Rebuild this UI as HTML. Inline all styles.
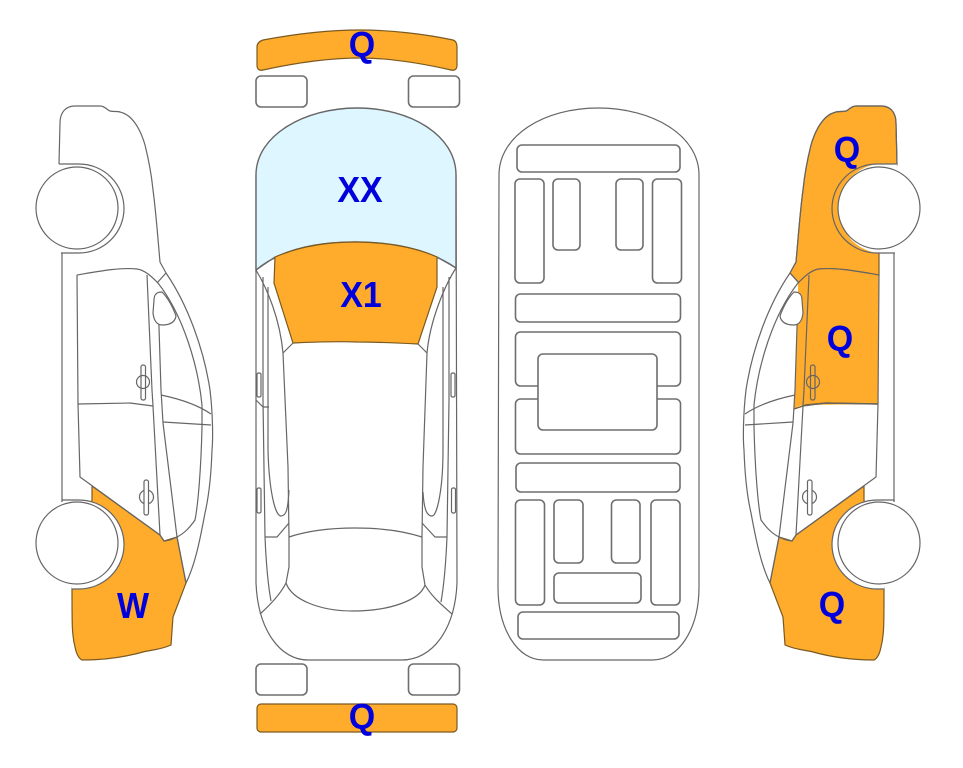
<!DOCTYPE html>
<html><head><meta charset="utf-8"><style>
html,body{margin:0;padding:0;background:#fff;width:963px;height:768px;overflow:hidden}
svg{display:block}
.l{fill:none;stroke:#666;stroke-width:1.2;stroke-linejoin:round}
.w{fill:#fff;stroke:#666;stroke-width:1.2}
.b{fill:#fff;stroke:#6e6e6e;stroke-width:1.6}
.o{fill:#FFAB2C;stroke:#7a5a20;stroke-width:1.2}
.n{fill:#FFAB2C;stroke:none}
text{font-family:"Liberation Sans",sans-serif;font-weight:700;font-size:34px;fill:#0000DC;text-anchor:middle}
</style></head><body>
<svg width="963" height="768" viewBox="0 0 963 768" xmlns="http://www.w3.org/2000/svg">
<defs>
<path id="rearfill" d="M92,486 L160,535 L164,541 L177,537 L186,583 L173,617 L171,645 C160,650 150,650 143,652 C125,657 105,660 82,660 C78,658 76,652 75,647 C72,635 72,627 72,589 L92,500 Z"/>
<g id="side">
<path class="l" d="M59,164 L60,123 C60,112 66,106 75,106 L100,106 C105,106 107,110 110,111 C114,112 117,111 120,112 C128,114 132,119 135,123 C140,130 143,138 145,145 C150,165 152,180 153,190 C156,212 158,240 160,262 L166,273 C188,305 204,350 210,390 C213,415 213,440 212,450 C211,480 208,500 205,513 C200,540 195,565 186,583"/>
<path class="l" d="M62,253 L62,502"/>
<path class="l" d="M77,275 L78,404 L80,477 L160,535 L164,541 C168,541 173,539 177,537 C185,533 190,527 195,520 C198,505 201,470 202,427 L202,405 C198,365 183,315 158,283 C152,277 145,270 137,269 C120,267 95,272 77,275"/>
<path class="l" d="M166,273 L157,283"/>
<path class="l" d="M147,275 L152,390 L153,406 L160,535"/>
<path class="l" d="M158,296 L161,390 L163,423 L177,537 L186,583"/>
<path class="l" d="M78,404 L130,403 L153,406"/>
<path class="l" d="M161,395 C180,399 198,405 211,414"/>
<path class="l" d="M163,422 L211,425"/>
<path class="w" d="M162,292 C157,292 154,294 154,300 L153,313 C154,322 158,325 162,325 C170,325 175,322 176,316 C172,305 168,298 162,292 Z"/>
<circle class="l" cx="143" cy="382" r="6.5"/>
<rect class="l" x="141" y="365" width="4.5" height="35" rx="2"/>
<circle class="l" cx="146.500" cy="497" r="7"/>
<rect class="w" x="144" y="480" width="4.500" height="35" rx="2"/>
<path class="w" d="M59,164 H79 A45,45 0 0 1 79,253 H62 L59,164 Z" style="stroke:none"/>
<path class="l" d="M59,164 H79 A45,44.500 0 0 1 79,253 H61"/>
<circle class="w" cx="77" cy="208" r="41"/>
<path class="w" d="M62,500 H79 A45,44.500 0 0 1 79,589 H72 Z" style="stroke:none"/>
<path class="l" d="M62,502 L62,500 H79 A45,44.500 0 0 1 79,589 H72"/>
<circle class="w" cx="77" cy="543" r="41"/>
</g>
</defs>

<!-- left side -->
<use href="#rearfill" class="o"/>
<use href="#side"/>

<!-- right side fills -->
<g transform="translate(956,0) scale(-1,1)">
<path class="o" d="M59,164 L60,123 C60,112 66,106 75,106 L100,106 C105,106 107,110 110,111 C114,112 117,111 120,112 C128,114 132,119 135,123 C140,130 143,138 145,145 C150,165 152,180 153,190 C156,212 158,240 160,262 L166,273 L157,283 C152,277 145,270 137,269 C120,267 95,272 77,275 L77,240 Z"/>
<path class="n" d="M77,275 C95,272 120,267 137,269 C145,270 152,277 158,283 L158,300 L162,409 C158,406 155,405 150,405 L78,404 Z"/>
<path d="M78,404 L130,403 L150,405 L162,409" fill="none" stroke="#7a5a20" stroke-width="1.4"/>
<use href="#rearfill" class="o"/>
<use href="#side"/>
</g>

<!-- top view -->
<path class="o" d="M257,47 C257,43 260,41 263,40 C295,34 330,30 360,30 C390,30 425,34 453,40 C456,41 457,44 457,47 L457,65 C457,69 455,71 451,70 C420,63 390,58 360,58 C330,58 295,63 263,70 C259,71 257,69 257,65 Z"/>
<rect class="b" x="256" y="76" width="51" height="31" rx="5"/>
<rect class="b" x="408.500" y="76" width="51" height="31" rx="5"/>
<path fill="#fff" class="l" d="M256,175 L256,583 C258,630 280,660 308,660 L402,660 C432,660 455,630 457,583 L456,175 Z"/>
<path d="M256,270 L256,175 C256,135 305,108 357,108 C410,108 456,135 456,175 L456,268 C430,250 395,242 355,242 C315,242 280,250 256,270 Z" fill="#DEF6FF" stroke="#666" stroke-width="1.4"/>
<path class="o" d="M275,257 L274,283 L293,343 C315,342 335,341 357,342 C378,342 398,343 418,344 L437,287 L437,257 C415,247 385,242 355,242 C325,242 298,247 275,257 Z"/>
<g class="l">
<path d="M256,270 L275,257"/><path d="M456,268 L437,257"/>
<path d="M256,270 C268,290 280,320 283,353 L293,343"/>
<path d="M456,268 C445,285 430,320 427,353 L418,344"/>
<path d="M283,353 L288,467 L289,537 L289,567 L286,583"/>
<path d="M427,353 L423,467 L422,537 L422,567 L425,585"/>
<path d="M289,537 C325,525 385,525 422,537"/>
<path d="M286,583 C292,600 320,611 353,611 C390,611 420,600 425,585"/>
<path d="M286,583 C280,595 270,605 260,614"/>
<path d="M425,585 C432,597 442,605 452,614"/>
<path d="M263,277 L263,400 L265,537 C266,560 268,585 271,601"/>
<path d="M449,277 L449,400 L447,537 C446,560 444,585 441,602"/>
<path d="M268,287 L268,450 C269,490 275,516 281,516 C286,516 288,510 289,490"/>
<path d="M443,287 L443,450 C443,490 437,516 432,516 C427,516 424,510 423,492"/>
<path d="M265,537 L277,537 L289,523"/>
<path d="M447,537 L435,537 L422,523"/>
<path d="M256,400 L263,407 L269,407"/>
</g>
<rect class="w" x="257" y="373" width="4" height="24" rx="1.500"/>
<rect class="w" x="451" y="373" width="4" height="24" rx="1.500"/>
<rect class="w" x="257" y="488" width="4" height="25" rx="1.500"/>
<rect class="w" x="451.500" y="488" width="4" height="25" rx="1.500"/>
<rect class="b" x="256" y="664" width="51" height="31" rx="5"/>
<rect class="b" x="408.500" y="664" width="51" height="31" rx="5"/>
<rect class="o" x="257" y="704" width="200" height="28" rx="4"/>

<!-- underbody -->
<path class="l" fill="#fff" d="M499,175 C499,135 545,108 598,108 C652,108 699,135 699,175 L699,587 C699,630 678,660 653,660 L543,660 C518,660 498,630 498,587 Z"/>
<g class="b">
<rect x="517" y="145" width="163" height="27" rx="5"/>
<rect x="515" y="179" width="29" height="104" rx="5"/>
<rect x="553" y="179" width="27" height="71" rx="5"/>
<rect x="616" y="179" width="27" height="71" rx="5"/>
<rect x="652.500" y="179" width="29" height="104" rx="5"/>
<rect x="515.500" y="294" width="165" height="28" rx="5"/>
<rect x="515.500" y="332" width="165" height="54" rx="5"/>
<rect x="515.500" y="399" width="165" height="55" rx="5"/>
<rect x="538" y="354" width="119" height="76" rx="5"/>
<rect x="516" y="463" width="164" height="29" rx="5"/>
<rect x="515.500" y="500" width="29" height="105" rx="5"/>
<rect x="554" y="500" width="29" height="63" rx="5"/>
<rect x="611.500" y="500" width="28.500" height="63" rx="5"/>
<rect x="651" y="500" width="29" height="105" rx="5"/>
<rect x="554" y="573" width="87" height="30" rx="5"/>
<rect x="518" y="612" width="161" height="27" rx="5"/>
</g>

<!-- labels -->
<text transform="translate(362,57) scale(1,1.07)">Q</text>
<text transform="translate(360,202) scale(1,1.07)">XX</text>
<text transform="translate(361,307) scale(1,1.07)">X1</text>
<text transform="translate(362,729) scale(1,1.07)">Q</text>
<text transform="translate(133,618) scale(1,1.07)">W</text>
<text transform="translate(847,162) scale(1,1.07)">Q</text>
<text transform="translate(840,351) scale(1,1.07)">Q</text>
<text transform="translate(832,617) scale(1,1.07)">Q</text>
</svg>
</body></html>
